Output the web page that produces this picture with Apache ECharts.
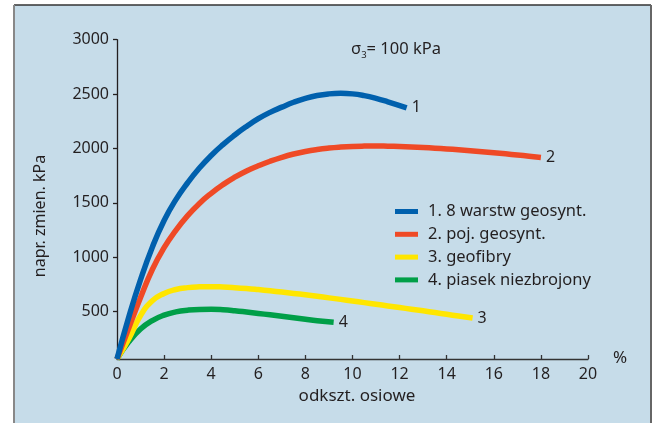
<!DOCTYPE html>
<html><head><meta charset="utf-8">
<script src="https://cdn.jsdelivr.net/npm/echarts@6/dist/echarts.min.js"></script>
<style>html,body{margin:0;padding:0;background:#fff}#c{width:657px;height:423px}</style>
</head><body><div id="c"></div>
<script>
// Data
const seriesNames = ['1. 8 warstw geosynt.', '2. poj. geosynt.', '3. geofibry', '4. piasek niezbrojony'];
const endTags = ['1', '2', '3', '4'];
const strain1 = [0, 0.5, 1, 1.5, 2, 2.5, 3, 3.5, 4, 4.5, 5, 5.5, 6, 6.5, 7, 7.5, 8, 8.5, 9, 9.5, 10, 10.5, 11, 11.5, 12.3];
const stress1 = [65, 450, 795, 1093, 1338, 1530, 1685, 1820, 1936, 2036, 2124, 2203, 2274, 2332, 2380, 2425, 2461, 2487, 2502, 2507, 2502, 2486, 2461, 2429, 2374];
const strain2 = [0, 0.5, 1, 1.5, 2, 2.5, 3, 3.5, 4, 4.5, 5, 5.5, 6, 6.5, 7, 7.5, 8, 8.5, 9, 9.5, 10, 10.5, 11, 11.5, 12, 12.5, 13, 13.5, 14, 14.5, 15, 15.5, 16, 16.5, 17, 17.5, 18];
const stress2 = [65, 350, 630, 888, 1088, 1248, 1383, 1495, 1588, 1668, 1736, 1794, 1841, 1883, 1919, 1949, 1973, 1991, 2004, 2013, 2019, 2022, 2023, 2021, 2018, 2014, 2009, 2003, 1996, 1988, 1980, 1971, 1961, 1951, 1940, 1929, 1917];
const strain3 = [0, 0.5, 1, 1.5, 2, 2.5, 3, 3.5, 4, 4.5, 5, 5.5, 6, 6.5, 7, 7.5, 8, 8.5, 9, 9.5, 10, 10.5, 11, 11.5, 12, 12.5, 13, 13.5, 14, 14.5, 15.1];
const stress3 = [65, 250, 465, 600, 668, 704, 721, 728, 730, 727, 721, 713, 703, 692, 680, 668, 655, 641, 627, 613, 598, 583, 568, 553, 538, 523, 508, 492, 476, 460, 441];
const strain4 = [0, 0.5, 1, 1.5, 2, 2.5, 3, 3.5, 4, 4.5, 5, 5.5, 6, 6.5, 7, 7.5, 8, 8.5, 9.2];
const stress4 = [65, 222, 340, 418, 468, 498, 514, 521, 522, 518, 509, 497, 484, 471, 458, 444, 430, 417, 402];
const xTicks = [0, 2, 4, 6, 8, 10, 12, 14, 16, 18, 20];
const yTicks = [500, 1000, 1500, 2000, 2500, 3000];
const colors = ['#0060ad', '#ef4a26', '#ffe600', '#009f48'];

const strains = [strain1, strain2, strain3, strain4];
const stresses = [stress1, stress2, stress3, stress4];
const txt = '#231f20';
const font = 'Noto Sans';

const series = seriesNames.map((n, i) => ({
  name: n, type: 'line', smooth: 0.5, showSymbol: false, symbol: 'none',
  data: strains[i].map((x, k) => [x, stresses[i][k]]),
  lineStyle: { width: 5.5, color: colors[i], cap: 'butt', join: 'round' },
  itemStyle: { color: colors[i] },
  endLabel: { show: true, formatter: endTags[i], distance: 5, color: txt, fontSize: 16, fontFamily: font },
  z: 10 - i
}));

const chart = echarts.init(document.getElementById('c'), null, { renderer: 'canvas' });
chart.setOption({
  backgroundColor: '#ffffff',
  animation: false,
  grid: { left: 117, right: 69, top: 39.7, bottom: 64, containLabel: false },
  graphic: [
    { type: 'rect', z: -10, shape: { x: 14, y: 5, width: 637, height: 430 }, style: { fill: '#c6dce9' } },
    { type: 'line', z: -9, shape: { x1: 14, y1: 5, x2: 651, y2: 5 }, style: { stroke: '#333', lineWidth: 1.5 } },
    { type: 'line', z: -9, shape: { x1: 14, y1: 5, x2: 14, y2: 423 }, style: { stroke: '#888', lineWidth: 2 } },
    { type: 'line', z: -9, shape: { x1: 651, y1: 5, x2: 651, y2: 423 }, style: { stroke: '#666', lineWidth: 2 } },
    { type: 'text', x: 40, y: 216, rotation: Math.PI / 2,
      style: { text: 'napr. zmien. kPa', fill: txt, fontSize: 16, fontFamily: font, align: 'center', verticalAlign: 'middle' } },
    { type: 'text', x: 357, y: 396,
      style: { text: 'odkszt. osiowe', fill: txt, fontSize: 17, fontFamily: font, align: 'center', verticalAlign: 'middle' } },
    { type: 'text', x: 620, y: 358,
      style: { text: '%', fill: txt, fontSize: 17, fontFamily: font, align: 'center', verticalAlign: 'middle' } },
    { type: 'text', x: 351, y: 49,
      style: { text: '{a|σ}{s|3}{a|= 100 kPa}', fill: txt, fontFamily: font, align: 'left', verticalAlign: 'middle',
        rich: { a: { fontSize: 16.5, fontFamily: font, color: txt }, s: { fontSize: 9.5, fontFamily: font, color: txt, padding: [12, 0, 0, 0] } } } }
  ],
  legend: {
    orient: 'vertical', left: 395, top: 203, padding: 0, itemGap: 5.8,
    itemWidth: 23, itemHeight: 5, icon: 'rect',
    textStyle: { color: txt, fontSize: 16.5, fontFamily: font, lineHeight: 16, padding: [0, 0, 0, 5] },
    data: seriesNames
  },
  xAxis: {
    type: 'value', min: 0, max: 20, interval: 2,
    axisLine: { lineStyle: { color: '#333', width: 1.3 } },
    axisTick: { inside: true, length: 4, lineStyle: { color: '#333', width: 1.3 } },
    axisLabel: { margin: 7, color: txt, fontSize: 16, fontFamily: font, customValues: xTicks, formatter: v => String(v) },
    splitLine: { show: false }
  },
  yAxis: {
    type: 'value', min: 65, max: 3000,
    axisLine: { show: true, onZero: false, lineStyle: { color: '#231f20', width: 1.3 } },
    axisTick: { show: true, length: 4, customValues: yTicks, lineStyle: { color: '#231f20', width: 1.3 } },
    axisLabel: { margin: 8, color: txt, fontSize: 16, fontFamily: font, customValues: yTicks, formatter: v => String(v) },
    splitLine: { show: false }
  },
  series: series
});
</script></body></html>
